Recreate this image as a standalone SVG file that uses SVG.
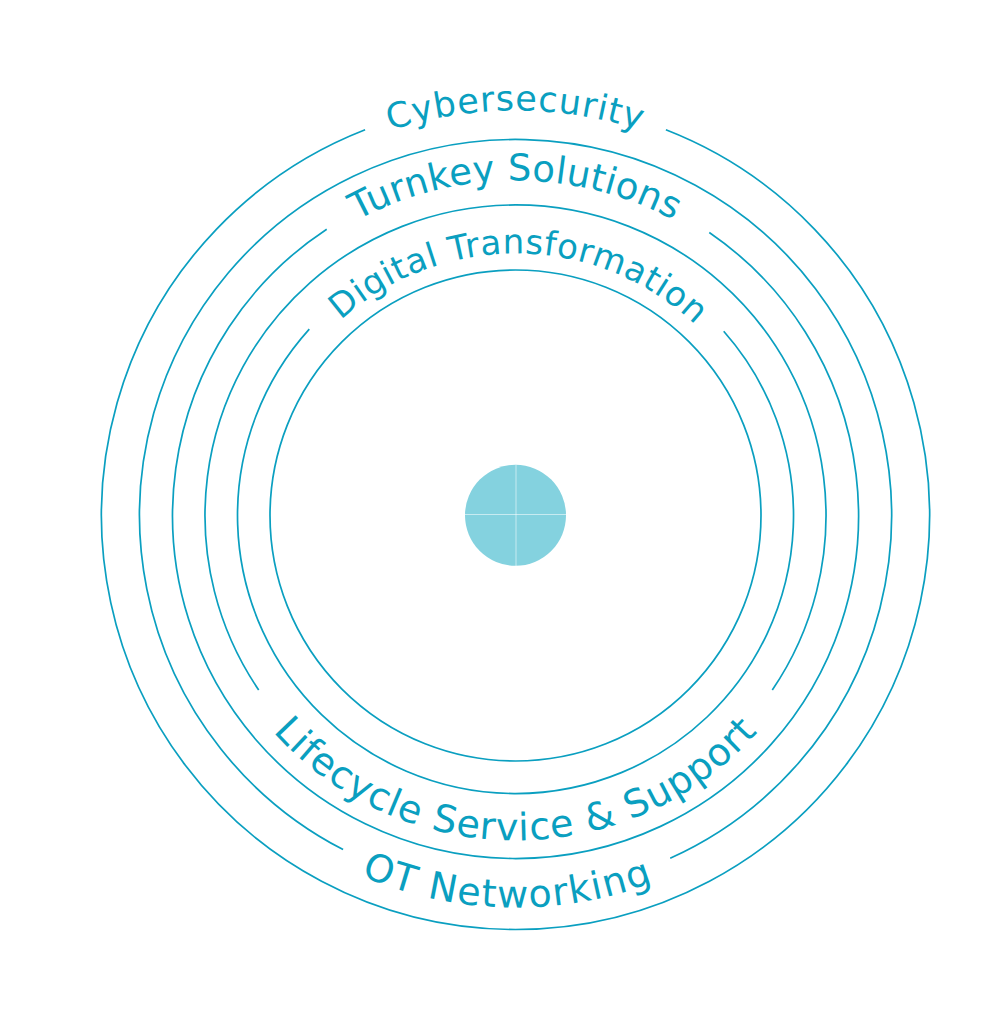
<svg xmlns="http://www.w3.org/2000/svg" width="1000" height="1031" viewBox="0 0 1000 1031">
<style>
.ring{fill:none;stroke:#0a9fc0;stroke-width:1.7}
.lbl{font-family:"DejaVu Sans","Liberation Sans",Arial,sans-serif;fill:#0a9fc0;text-anchor:middle}
</style>
<defs>
<path id="tp1" d="M110.5,515.5 A405,405 0 0 1 920.5,515.5"/>
<path id="tp2" d="M180.5,515.5 A335,335 0 0 1 850.5,515.5"/>
<path id="tp3" d="M253.5,515.5 A262,262 0 0 1 777.5,515.5"/>
<path id="tp4" d="M190.5,515.5 A325,325 0 0 0 840.5,515.5"/>
<path id="tp5" d="M123.5,515.5 A392,392 0 0 0 907.5,515.5"/>
</defs>
<rect width="1000" height="1031" fill="#ffffff"/>
<g id="ring-cybersecurity">
<path class="ring" d="M665.9,129.8 A414,414 0 1 1 365.1,129.8"/>
<text class="lbl" font-size="35" letter-spacing="0.9"><textPath href="#tp1" startOffset="50%">Cybersecurity</textPath></text>
</g>
<g id="ring-ot-networking">
<path class="ring" d="M343.1,849.6 A376,376 0 1 1 670.2,858.2"/>
<text class="lbl" font-size="38" letter-spacing="1.4"><textPath href="#tp5" startOffset="607">OT Networking</textPath></text>
</g>
<g id="ring-turnkey-solutions">
<path class="ring" d="M709.3,232.5 A343,343 0 1 1 326.7,229.2"/>
<text class="lbl" font-size="37" letter-spacing="0.3"><textPath href="#tp2" startOffset="50%">Turnkey Solutions</textPath></text>
</g>
<g id="ring-lifecycle">
<path class="ring" d="M258.7,690 A310.5,310.5 0 1 1 772.3,690"/>
<text class="lbl" font-size="38" letter-spacing="0.9"><textPath href="#tp4" startOffset="50%">Lifecycle Service &amp; Support</textPath></text>
</g>
<g id="ring-digital-transformation">
<path class="ring" d="M723.7,331.3 A278,278 0 1 1 309.3,329.1"/>
<text class="lbl" font-size="34" letter-spacing="0.6"><textPath href="#tp3" startOffset="415">Digital Transformation</textPath></text>
</g>
<g id="ring-inner">
<circle class="ring" cx="515.5" cy="515.5" r="245.5"/>
</g>
<g id="center">
<circle cx="515.5" cy="515.3" r="50.5" fill="#84d2df"/>
<line x1="516" y1="465" x2="516" y2="566" stroke="#ffffff" stroke-opacity="0.55" stroke-width="1"/>
<line x1="465" y1="514.5" x2="566" y2="514.5" stroke="#ffffff" stroke-opacity="0.55" stroke-width="1"/>
</g>
<g id="connectors"/>
</svg>
